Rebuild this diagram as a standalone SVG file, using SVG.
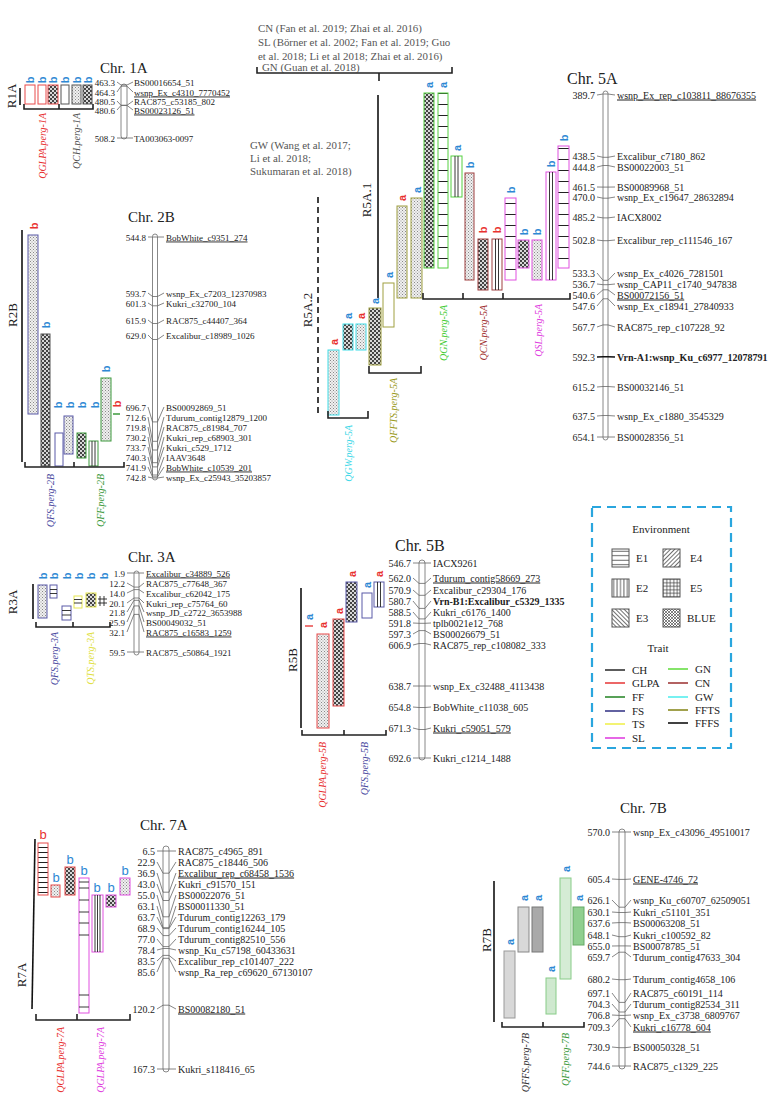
<svg xmlns="http://www.w3.org/2000/svg" width="768" height="1110" viewBox="0 0 768 1110">
<style>
.sf{font-family:"Liberation Serif","Times New Roman",serif;fill:#222}
.n9{font-size:9px}
.n10{font-size:10px}
.num{text-anchor:end}
.ttl{font-size:15px}
.chr{fill:#fff;stroke:#888;stroke-width:1}
.cn{fill:none;stroke:#666;stroke-width:0.8}
.brk{fill:none;stroke:#222;stroke-width:1.6}
.rg{font-size:13px;text-anchor:middle;dominant-baseline:central}
.rl{stroke:#111;stroke-width:1.6;fill:none}
.ql{font-style:italic;font-size:10px;text-anchor:end}
.lt{font-family:"Liberation Sans",Arial,sans-serif;font-size:11px;font-weight:bold;text-anchor:middle;dominant-baseline:central}
.bl{fill:#2e88d4}
.rd{fill:#e8312f}
.u{text-decoration:underline}
.bd{font-weight:bold}
.cit{font-size:10.9px;fill:#555}
.sGLPA{stroke:#e84a4a;stroke-width:1}
.sCH{stroke:#555;stroke-width:1}
.sFS{stroke:#5a5aa8;stroke-width:1}
.sFF{stroke:#3c9a3c;stroke-width:1}
.sTS{stroke:#e6e650;stroke-width:1}
.sSL{stroke:#e050e0;stroke-width:1}
.sGN{stroke:#55d040;stroke-width:1}
.sCN{stroke:#a04040;stroke-width:1}
.sGW{stroke:#40dde8;stroke-width:1}
.sFFTS{stroke:#a0a040;stroke-width:1}
.ln{stroke:#222;stroke-width:0.9}
.sw{stroke:#555;stroke-width:1}
.lg{font-size:11px}
</style>
<defs>
<pattern id="pDot" width="3" height="3" patternUnits="userSpaceOnUse"><rect width="3" height="3" fill="#f0f0f0"/><rect width="1" height="1" fill="#888"/><rect x="1.5" y="1.5" width="1" height="1" fill="#999"/></pattern>
<pattern id="pBlue" width="4" height="4" patternUnits="userSpaceOnUse"><rect width="4" height="4" fill="#d8d8d8"/><rect width="2" height="2" fill="#444"/><rect x="2" y="2" width="2" height="2" fill="#444"/></pattern>
<pattern id="pH" width="10" height="11" patternUnits="userSpaceOnUse"><rect width="10" height="11" fill="#fff"/><line x1="0" y1="5.5" x2="10" y2="5.5" stroke="#222" stroke-width="1"/></pattern>
<pattern id="pH5" width="10" height="5" patternUnits="userSpaceOnUse"><rect width="10" height="5" fill="#fff"/><line x1="0" y1="2.5" x2="10" y2="2.5" stroke="#222" stroke-width="1"/></pattern>
<pattern id="pHg" width="10" height="2" patternUnits="userSpaceOnUse"><rect width="10" height="2" fill="#e4e4e4"/><line x1="0" y1="1" x2="10" y2="1" stroke="#bbb" stroke-width="0.6"/></pattern>
<pattern id="pHgr" width="10" height="2" patternUnits="userSpaceOnUse"><rect width="10" height="2" fill="#dcefdc"/><line x1="0" y1="1" x2="10" y2="1" stroke="#b0d8b0" stroke-width="0.6"/></pattern>
<pattern id="gH" width="4" height="4.5" patternUnits="userSpaceOnUse"><rect width="4" height="4.5" fill="#fff"/><line x1="0" y1="2.2" x2="4" y2="2.2" stroke="#333" stroke-width="0.8"/></pattern>
<pattern id="gV" width="3.4" height="4" patternUnits="userSpaceOnUse"><rect width="3.4" height="4" fill="#fff"/><line x1="1.7" y1="0" x2="1.7" y2="4" stroke="#333" stroke-width="0.8"/></pattern>
<pattern id="gD1" width="3" height="3" patternUnits="userSpaceOnUse" patternTransform="rotate(-45)"><rect width="3" height="3" fill="#fff"/><line x1="1.5" y1="0" x2="1.5" y2="3" stroke="#333" stroke-width="0.7"/></pattern>
<pattern id="gD2" width="3" height="3" patternUnits="userSpaceOnUse" patternTransform="rotate(45)"><rect width="3" height="3" fill="#fff"/><line x1="1.5" y1="0" x2="1.5" y2="3" stroke="#333" stroke-width="0.7"/></pattern>
<pattern id="gG" width="3.5" height="3.5" patternUnits="userSpaceOnUse"><rect width="3.5" height="3.5" fill="#fff"/><path d="M1.75,0V3.5M0,1.75H3.5" stroke="#333" stroke-width="0.7"/></pattern>
<pattern id="gX" width="3" height="3" patternUnits="userSpaceOnUse"><rect width="3" height="3" fill="#fff"/><path d="M0,0L3,3M3,0L0,3" stroke="#333" stroke-width="0.6"/></pattern>
</defs>
<rect width="768" height="1110" fill="#fff"/>

<!-- Chr 1A -->
<g id="chr1A">
<text class="sf ttl" x="100" y="73" font-size="14">Chr. 1A</text>
<rect class="chr" x="121" y="84" width="6" height="55" rx="3"/>
<g class="sf n9 num">
<text x="115" y="85.5">463.3</text><text x="115" y="95.5">464.3</text><text x="115" y="104.5">480.5</text><text x="115" y="113.5">480.6</text><text x="115" y="141.5">508.2</text>
</g>
<g class="sf n9">
<text x="134" y="85.5">BS00016654_51</text><text x="134" y="95.5" class="u">wsnp_Ex_c4310_7770452</text><text x="134" y="104.5">RAC875_c53185_802</text><text x="134" y="113.5" class="u">BS00023126_51</text><text x="134" y="141.5">TA003063-0097</text>
</g>
</g>
<g id="qtl1A">
<text class="sf rg" transform="translate(11,96) rotate(-90)">R1A</text>
<line class="rl" x1="20" y1="88" x2="20" y2="105"/>
<rect x="25" y="85" width="10" height="19" class="sGLPA" fill="#fff"/>
<rect x="38" y="85" width="8" height="19" class="sGLPA" fill="#fff"/>
<rect x="48" y="85" width="10" height="19" class="sGLPA" fill="url(#pBlue)"/>
<rect x="61" y="85" width="8" height="19" class="sCH" fill="#fff"/>
<rect x="72" y="85" width="9" height="19" class="sCH" fill="url(#pDot)"/>
<rect x="83" y="85" width="9" height="19" class="sCH" fill="url(#pBlue)"/>
<g class="lt bl">
<text transform="translate(30,80) rotate(-90)">b</text><text transform="translate(42,80) rotate(-90)">b</text><text transform="translate(53,80) rotate(-90)">b</text><text transform="translate(65,80) rotate(-90)">b</text><text transform="translate(77,80) rotate(-90)">b</text><text transform="translate(88,80) rotate(-90)">b</text>
</g>
<path class="brk" d="M24,104V109H93V104M59,109V104"/>
<text class="sf ql" style="fill:#e83030" transform="translate(45.5,113) rotate(-90)">QGLPA.perg-1A</text>
<text class="sf ql" style="fill:#555" transform="translate(79.5,113) rotate(-90)">QCH.perg-1A</text>
</g>

<!-- Chr 2B -->
<g id="chr2B">
<text class="sf ttl" x="128" y="222" font-size="14">Chr. 2B</text>
<rect class="chr" x="152.5" y="234" width="5" height="246" rx="2.5"/>
<g class="sf n9 num">
<text x="146" y="240.5">544.8</text><text x="146" y="296.5">593.7</text><text x="146" y="306.5">601.3</text><text x="146" y="323.5">615.9</text><text x="146" y="338.5">629.0</text><text x="146" y="410.5">696.7</text><text x="146" y="420.5">712.6</text><text x="146" y="430.5">719.8</text><text x="146" y="440.5">730.2</text><text x="146" y="450.5">733.7</text><text x="146" y="460.5">740.3</text><text x="146" y="470.5">741.9</text><text x="146" y="480.5">742.8</text>
</g>
<g class="sf n9">
<text x="166" y="240.5" class="u">BobWhite_c9351_274</text><text x="166" y="296.5">wsnp_Ex_c7203_12370983</text><text x="166" y="306.5">Kukri_c32700_104</text><text x="166" y="323.5">RAC875_c44407_364</text><text x="166" y="338.5">Excalibur_c18989_1026</text><text x="166" y="410.5">BS00092869_51</text><text x="166" y="420.5">Tdurum_contig12879_1200</text><text x="166" y="430.5">RAC875_c81984_707</text><text x="166" y="440.5">Kukri_rep_c68903_301</text><text x="166" y="450.5">Kukri_c529_1712</text><text x="166" y="460.5">IAAV3648</text><text x="166" y="470.5" class="u">BobWhite_c10539_201</text><text x="166" y="480.5">wsnp_Ex_c25943_35203857</text>
</g>
</g>
<g id="qtl2B">
<text class="sf rg" transform="translate(12,315) rotate(-90)">R2B</text>
<line class="rl" x1="22" y1="230" x2="22" y2="462"/>
<rect x="28" y="235" width="10" height="179" class="sFS" fill="url(#pDot)"/>
<rect x="41" y="334" width="9" height="132" class="sCH" fill="url(#pBlue)"/>
<rect x="55" y="433" width="8" height="33" class="sFS" fill="#fff"/>
<rect x="64" y="416" width="9" height="38" class="sFS" fill="url(#pDot)"/>
<rect x="77" y="433" width="9" height="25" class="sFF" fill="url(#pBlue)"/>
<rect x="89" y="441" width="9" height="25" class="sFF" fill="#fff"/>
<path class="ln" d="M92,441V466M95,441V466"/>
<rect x="101" y="378" width="10" height="63" class="sFF" fill="url(#pDot)"/>
<line x1="113" y1="414" x2="120" y2="414" stroke="#3c9a3c" stroke-width="1.5"/>
<text class="lt rd" transform="translate(34,226) rotate(-90)">b</text>
<text class="lt bl" transform="translate(45.5,325) rotate(-90)">b</text>
<text class="lt bl" transform="translate(58,405) rotate(-90)">b</text>
<text class="lt bl" transform="translate(70,405) rotate(-90)">b</text>
<text class="lt bl" transform="translate(82,405) rotate(-90)">b</text>
<text class="lt bl" transform="translate(95,405) rotate(-90)">b</text>
<text class="lt bl" transform="translate(106,369) rotate(-90)">b</text>
<text class="lt rd" transform="translate(117,404) rotate(-90)">b</text>
<path class="brk" d="M25,462V467H124V462M74,467V462"/>
<text class="sf ql" style="fill:#4a4aa0" transform="translate(53.5,474) rotate(-90)">QFS.perg-2B</text>
<text class="sf ql" style="fill:#3c9a3c" transform="translate(103.5,474) rotate(-90)">QFF.perg-2B</text>
</g>

<!-- Chr 5A -->
<g id="chr5A">
<text class="sf" x="567" y="84" font-size="16">Chr. 5A</text>
<rect class="chr" x="603" y="91" width="5" height="349" rx="2.5"/>
<g class="sf n10 num">
<text x="595" y="98.5">389.7</text><text x="595" y="159.5">438.5</text><text x="595" y="170.5">444.8</text><text x="595" y="190.5">461.5</text><text x="595" y="200.5">470.0</text><text x="595" y="220.5">485.2</text><text x="595" y="243.5">502.8</text><text x="595" y="276.5">533.3</text><text x="595" y="287.5">536.7</text><text x="595" y="298.5">540.6</text><text x="595" y="309.5">547.6</text><text x="595" y="330.5">567.7</text><text x="595" y="360.5">592.3</text><text x="595" y="390.5">615.2</text><text x="595" y="419.5">637.5</text><text x="595" y="440.5">654.1</text>
</g>
<g class="sf n10">
<text x="617" y="98.5" class="u">wsnp_Ex_rep_c103811_88676355</text><text x="617" y="159.5">Excalibur_c7180_862</text><text x="617" y="170.5">BS00022003_51</text><text x="617" y="190.5">BS00089968_51</text><text x="617" y="200.5">wsnp_Ex_c19647_28632894</text><text x="617" y="220.5">IACX8002</text><text x="617" y="243.5">Excalibur_rep_c111546_167</text><text x="617" y="276.5">wsnp_Ex_c4026_7281501</text><text x="617" y="287.5">wsnp_CAP11_c1740_947838</text><text x="617" y="298.5" class="u">BS00072156_51</text><text x="617" y="309.5">wsnp_Ex_c18941_27840933</text><text x="617" y="330.5">RAC875_rep_c107228_92</text><text x="617" y="360.5" class="bd">Vrn-A1:wsnp_Ku_c6977_12078791</text><text x="617" y="390.5">BS00032146_51</text><text x="617" y="419.5">wsnp_Ex_c1880_3545329</text><text x="617" y="440.5">BS00028356_51</text>
</g>
</g>
<g id="qtl5A">
<g class="sf cit">
<text x="258" y="32">CN (Fan et al. 2019; Zhai et al. 2016)</text>
<text x="258" y="46">SL (Börner et al. 2002; Fan et al. 2019; Guo</text>
<text x="258" y="60">et al. 2018; Li et al 2018; Zhai et al. 2016)</text>
<text x="262" y="71">GN (Guan et al. 2018)</text>
<text x="250" y="149">GW (Wang et al. 2017;</text>
<text x="250" y="162">Li et al. 2018;</text>
<text x="250" y="175">Sukumaran et al. 2018)</text>
</g>
<path class="brk" d="M257,67V73H452V67M379,73V81"/>
<line class="rl" x1="378" y1="95" x2="378" y2="298"/>
<text class="sf rg" transform="translate(366,200) rotate(-90)">R5A.1</text>
<line class="rl" x1="318" y1="197" x2="318" y2="413" stroke-dasharray="6,4"/>
<text class="sf rg" transform="translate(307,310) rotate(-90)">R5A.2</text>
<rect x="328" y="350" width="11" height="65" class="sGW" fill="url(#pDot)"/>
<rect x="343" y="324" width="10" height="26" class="sGW" fill="url(#pBlue)"/>
<rect x="356" y="324" width="10" height="26" class="sGW" fill="url(#pDot)"/>
<rect x="369" y="308" width="12" height="57" class="sFFTS" fill="url(#pBlue)"/>
<rect x="383" y="283" width="11" height="44" class="sFFTS" fill="#fff"/>
<rect x="397" y="206" width="10" height="92" class="sFFTS" fill="url(#pDot)"/>
<rect x="411" y="198" width="11" height="100" class="sFFTS" fill="url(#pDot)"/>
<rect x="424" y="93" width="10" height="175" class="sGN" fill="url(#pBlue)"/>
<rect x="438" y="93" width="10" height="175" class="sGN" fill="url(#pH)"/>
<rect x="451" y="156" width="11" height="41" class="sGN" fill="#fff"/>
<path class="ln" d="M455,156V197M458,156V197"/>
<rect x="465" y="173" width="9" height="107" class="sCN" fill="url(#pDot)"/>
<rect x="478" y="239" width="10" height="51" class="sCN" fill="url(#pBlue)"/>
<rect x="492" y="239" width="10" height="51" class="sCN" fill="#fff"/>
<path class="ln" d="M495.5,239V290M498.5,239V290"/>
<rect x="505" y="198" width="11" height="82" class="sSL" fill="url(#pH)"/>
<rect x="518" y="240" width="11" height="28" class="sSL" fill="url(#pBlue)"/>
<rect x="532" y="240" width="10" height="40" class="sSL" fill="url(#pDot)"/>
<rect x="546" y="172" width="10" height="108" class="sSL" fill="#fff"/>
<path class="ln" d="M549.5,172V280M552.5,172V280"/>
<rect x="558" y="146" width="11" height="122" class="sSL" fill="url(#pH)"/>
<text class="lt rd" transform="translate(333.5,342) rotate(-90)">a</text>
<text class="lt bl" transform="translate(348,316) rotate(-90)">a</text>
<text class="lt rd" transform="translate(361,316) rotate(-90)">a</text>
<text class="lt bl" transform="translate(375,301) rotate(-90)">a</text>
<text class="lt bl" transform="translate(388.5,275) rotate(-90)">a</text>
<text class="lt rd" transform="translate(402,198) rotate(-90)">a</text>
<text class="lt bl" transform="translate(416.5,190) rotate(-90)">a</text>
<text class="lt bl" transform="translate(429,85) rotate(-90)">a</text>
<text class="lt bl" transform="translate(443,85) rotate(-90)">a</text>
<text class="lt bl" transform="translate(456.5,148) rotate(-90)">a</text>
<text class="lt bl" transform="translate(469.5,165) rotate(-90)">b</text>
<text class="lt rd" transform="translate(483,230) rotate(-90)">b</text>
<text class="lt rd" transform="translate(497,230) rotate(-90)">b</text>
<text class="lt bl" transform="translate(510.5,190) rotate(-90)">b</text>
<text class="lt bl" transform="translate(523.5,232) rotate(-90)">b</text>
<text class="lt bl" transform="translate(537,232) rotate(-90)">b</text>
<text class="lt bl" transform="translate(551,164) rotate(-90)">b</text>
<text class="lt bl" transform="translate(563.5,138) rotate(-90)">b</text>
<path class="brk" d="M328,411V418H368V411"/>
<path class="brk" d="M369,366V373H421V366"/>
<path class="brk" d="M423,293V299H570V293M463,299V293M503,299V293"/>
<text class="sf ql" style="fill:#40d8e8" transform="translate(351.5,425) rotate(-90)">QGW.perg-5A</text>
<text class="sf ql" style="fill:#9a9a20" transform="translate(397,378) rotate(-90)">QFFTS.perg-5A</text>
<text class="sf ql" style="fill:#44cc33" transform="translate(446.5,305) rotate(-90)">QGN.perg-5A</text>
<text class="sf ql" style="fill:#a03030" transform="translate(486.5,305) rotate(-90)">QCN.perg-5A</text>
<text class="sf ql" style="fill:#e040e0" transform="translate(541.5,304) rotate(-90)">QSL.perg-5A</text>
</g>

<!-- Chr 3A -->
<g id="chr3A">
<text class="sf ttl" x="128" y="562" font-size="14">Chr. 3A</text>
<rect class="chr" x="134" y="571" width="5" height="84" rx="2.5"/>
<g class="sf n9 num">
<text x="125" y="576.5">1.9</text><text x="125" y="586.5">12.2</text><text x="125" y="596.5">14.0</text><text x="125" y="606.5">20.1</text><text x="125" y="615.5">21.8</text><text x="125" y="625.5">25.9</text><text x="125" y="635.5">32.1</text><text x="125" y="655.5">59.5</text>
</g>
<g class="sf n9">
<text x="146" y="576.5" class="u">Excalibur_c34889_526</text><text x="146" y="586.5">RAC875_c77648_367</text><text x="146" y="596.5">Excalibur_c62042_175</text><text x="146" y="606.5">Kukri_rep_c75764_60</text><text x="146" y="615.5">wsnp_JD_c2722_3653988</text><text x="146" y="625.5">BS00049032_51</text><text x="146" y="635.5" class="u">RAC875_c16583_1259</text><text x="146" y="655.5">RAC875_c50864_1921</text>
</g>
</g>
<g id="qtl3A">
<text class="sf rg" transform="translate(12,602) rotate(-90)">R3A</text>
<line class="rl" x1="33" y1="584" x2="33" y2="619"/>
<rect x="38" y="585" width="9" height="33" class="sFS" fill="url(#pDot)"/>
<rect x="50" y="585" width="7" height="13" class="sFS" fill="#fff"/>
<path class="ln" d="M50,589.5H57M50,593.5H57"/>
<rect x="62" y="606" width="9" height="14" class="sFS" fill="#fff"/>
<path class="ln" d="M62,610.5H71M62,615H71"/>
<rect x="74" y="596" width="8" height="12" class="sTS" fill="#fff"/>
<path class="ln" d="M74,599.5H82M74,603H82"/>
<rect x="86" y="593" width="10" height="14" class="sTS" fill="url(#pBlue)"/>
<path class="ln" d="M100,596V606M104,596V606M98,599H107M98,603H107"/>
<g class="lt bl">
<text transform="translate(43,576) rotate(-90)">b</text><text transform="translate(54,576) rotate(-90)">b</text><text transform="translate(67,576) rotate(-90)">b</text><text transform="translate(79,576) rotate(-90)">b</text><text transform="translate(91,576) rotate(-90)">b</text><text transform="translate(104,576) rotate(-90)">b</text>
</g>
<path class="brk" d="M36,622V627H110V622M73,627V622"/>
<text class="sf ql" style="fill:#4a4aa0" transform="translate(58,632) rotate(-90)">QFS.perg-3A</text>
<text class="sf ql" style="fill:#e0e040" transform="translate(94,632) rotate(-90)">QTS.perg-3A</text>
</g>

<!-- Chr 5B -->
<g id="chr5B">
<text class="sf" x="395" y="551" font-size="16">Chr. 5B</text>
<rect class="chr" x="419" y="560" width="6" height="200" rx="3"/>
<g class="sf n10 num">
<text x="411" y="566.5">546.7</text><text x="411" y="581.5">562.0</text><text x="411" y="593.5">570.9</text><text x="411" y="604.5">580.7</text><text x="411" y="615.5">588.5</text><text x="411" y="626.5">591.8</text><text x="411" y="637.5">597.3</text><text x="411" y="648.5">606.9</text><text x="411" y="689.5">638.7</text><text x="411" y="710.5">654.8</text><text x="411" y="731.5">671.3</text><text x="411" y="761.5">692.6</text>
</g>
<g class="sf n10">
<text x="433" y="566.5">IACX9261</text><text x="433" y="581.5" class="u">Tdurum_contig58669_273</text><text x="433" y="593.5">Excalibur_c29304_176</text><text x="433" y="604.5" class="bd">Vrn-B1:Excalibur_c5329_1335</text><text x="433" y="615.5">Kukri_c6176_1400</text><text x="433" y="626.5">tplb0021e12_768</text><text x="433" y="637.5">BS00026679_51</text><text x="433" y="648.5">RAC875_rep_c108082_333</text><text x="433" y="689.5">wsnp_Ex_c32488_4113438</text><text x="433" y="710.5">BobWhite_c11038_605</text><text x="433" y="731.5" class="u">Kukri_c59051_579</text><text x="433" y="761.5">Kukri_c1214_1488</text>
</g>
</g>
<g id="qtl5B">
<text class="sf rg" transform="translate(292,660) rotate(-90)">R5B</text>
<line class="rl" x1="301" y1="588" x2="301" y2="728"/>
<line x1="305" y1="626" x2="313" y2="626" stroke="#e84a4a" stroke-width="1.5"/>
<rect x="317" y="634" width="12" height="94" class="sGLPA" fill="url(#pDot)"/>
<rect x="333" y="619" width="11" height="87" class="sGLPA" fill="url(#pBlue)"/>
<rect x="346" y="582" width="11" height="40" class="sFS" fill="url(#pBlue)"/>
<rect x="362" y="593" width="10" height="25" class="sFS" fill="#fff"/>
<rect x="374" y="582" width="10" height="25" class="sFS" fill="#fff"/>
<path class="ln" d="M377.5,582V607M380.5,582V607"/>
<text class="lt bl" transform="translate(309,617) rotate(-90)">a</text>
<text class="lt rd" transform="translate(323,625) rotate(-90)">a</text>
<text class="lt rd" transform="translate(338.5,611) rotate(-90)">a</text>
<text class="lt rd" transform="translate(351.5,574) rotate(-90)">a</text>
<text class="lt bl" transform="translate(367,585) rotate(-90)">a</text>
<text class="lt rd" transform="translate(379,574) rotate(-90)">a</text>
<path class="brk" d="M302,730V735H386V730M344,735V730"/>
<text class="sf ql" style="fill:#e83030" transform="translate(325.5,742) rotate(-90)">QGLPA.perg-5B</text>
<text class="sf ql" style="fill:#4a4aa0" transform="translate(367.5,742) rotate(-90)">QFS.perg-5B</text>
</g>

<!-- Legend -->
<g id="legend">
<rect x="592" y="507" width="139" height="241" fill="none" stroke="#2aa6de" stroke-width="2.2" stroke-dasharray="9,6"/>
<text class="sf lg" x="661" y="533" text-anchor="middle">Environment</text>
<rect class="sw" x="612" y="549" width="17" height="18" fill="url(#gH)"/>
<rect class="sw" x="663" y="549" width="17" height="18" fill="url(#gD2)"/>
<rect class="sw" x="612" y="579" width="17" height="18" fill="url(#gV)"/>
<rect class="sw" x="663" y="579" width="17" height="18" fill="url(#gG)"/>
<rect class="sw" x="612" y="609" width="17" height="18" fill="url(#gD1)"/>
<rect class="sw" x="663" y="609" width="17" height="18" fill="url(#gX)"/>
<g class="sf lg">
<text x="636" y="562">E1</text><text x="690" y="562">E4</text>
<text x="636" y="592">E2</text><text x="690" y="592">E5</text>
<text x="636" y="622">E3</text><text x="687" y="622">BLUE</text>
</g>
<text class="sf lg" x="658" y="652" text-anchor="middle">Trait</text>
<g stroke-width="1.6">
<line x1="605" y1="670" x2="625" y2="670" stroke="#333"/>
<line x1="605" y1="683" x2="625" y2="683" stroke="#e84040"/>
<line x1="605" y1="697" x2="625" y2="697" stroke="#2e8a2e"/>
<line x1="605" y1="711" x2="625" y2="711" stroke="#3a3a8a"/>
<line x1="605" y1="724" x2="625" y2="724" stroke="#f0f050"/>
<line x1="605" y1="738" x2="625" y2="738" stroke="#e040e0"/>
<line x1="668" y1="669" x2="688" y2="669" stroke="#66dd44"/>
<line x1="668" y1="683" x2="688" y2="683" stroke="#a03a3a"/>
<line x1="668" y1="697" x2="688" y2="697" stroke="#55eeee"/>
<line x1="668" y1="710" x2="688" y2="710" stroke="#8a8a20"/>
<line x1="668" y1="723" x2="688" y2="723" stroke="#111"/>
</g>
<g class="sf lg">
<text x="632" y="674">CH</text><text x="632" y="687">GLPA</text><text x="632" y="701">FF</text><text x="632" y="715">FS</text><text x="632" y="728">TS</text><text x="632" y="742">SL</text>
<text x="695" y="673">GN</text><text x="695" y="687">CN</text><text x="695" y="701">GW</text><text x="695" y="714">FFTS</text><text x="695" y="727">FFFS</text>
</g>
</g>

<!-- Chr 7A -->
<g id="chr7A">
<text class="sf ttl" x="140" y="830">Chr. 7A</text>
<rect class="chr" x="163" y="846" width="6" height="226" rx="3"/>
<g class="sf n10 num">
<text x="155" y="854.5">6.5</text><text x="155" y="865.5">22.9</text><text x="155" y="876.5">36.9</text><text x="155" y="887.5">43.0</text><text x="155" y="898.5">55.0</text><text x="155" y="909.5">63.1</text><text x="155" y="920.5">63.7</text><text x="155" y="931.5">68.9</text><text x="155" y="942.5">77.0</text><text x="155" y="953.5">78.4</text><text x="155" y="964.5">83.5</text><text x="155" y="975.5">85.6</text><text x="155" y="1012.5">120.2</text><text x="155" y="1072.5">167.3</text>
</g>
<g class="sf n10">
<text x="178" y="854.5">RAC875_c4965_891</text><text x="178" y="865.5">RAC875_c18446_506</text><text x="178" y="876.5" class="u">Excalibur_rep_c68458_1536</text><text x="178" y="887.5">Kukri_c91570_151</text><text x="178" y="898.5">BS00022076_51</text><text x="178" y="909.5">BS00011330_51</text><text x="178" y="920.5">Tdurum_contig12263_179</text><text x="178" y="931.5">Tdurum_contig16244_105</text><text x="178" y="942.5">Tdurum_contig82510_556</text><text x="178" y="953.5">wsnp_Ku_c57198_60433631</text><text x="178" y="964.5">Excalibur_rep_c101407_222</text><text x="178" y="975.5">wsnp_Ra_rep_c69620_67130107</text><text x="178" y="1012.5" class="u">BS00082180_51</text><text x="178" y="1072.5">Kukri_s118416_65</text>
</g>
</g>
<g id="qtl7A">
<text class="sf rg" transform="translate(21,975) rotate(-90)" font-size="14">R7A</text>
<line class="rl" x1="35" y1="839" x2="32" y2="1009"/>
<rect x="38" y="843" width="10" height="52" class="sGLPA" fill="url(#pH5)"/>
<rect x="51" y="885" width="9" height="12" class="sGLPA" fill="url(#pDot)"/>
<rect x="65" y="867" width="10" height="28" class="sGLPA" fill="url(#pBlue)"/>
<rect x="79" y="878" width="10" height="135" class="sSL" fill="#fff"/>
<path class="ln" d="M79,882H89M79,888H89M79,900H89M79,912H89M79,923H89M79,935H89M79,995H89M79,1007H89"/>
<rect x="92" y="895" width="11" height="57" class="sSL" fill="#fff"/>
<path class="ln" d="M95,895V952M97.5,895V952M100,895V952"/>
<rect x="106" y="895" width="10" height="12" class="sSL" fill="url(#pBlue)"/>
<rect x="120" y="878" width="10" height="17" class="sSL" fill="url(#pDot)"/>
<g font-family="Liberation Sans, Arial, sans-serif" font-size="13" text-anchor="middle">
<text x="43" y="839" fill="#e8312f">b</text>
<text x="56" y="882" fill="#2e88d4">b</text>
<text x="70" y="864" fill="#2e88d4">b</text>
<text x="84" y="875" fill="#2e88d4">b</text>
<text x="97" y="892" fill="#2e88d4">b</text>
<text x="111" y="892" fill="#2e88d4">b</text>
<text x="125" y="875" fill="#2e88d4">b</text>
</g>
<path class="brk" d="M36,1014V1020H130V1014M77,1020V1014"/>
<text class="sf ql" style="fill:#e83030" transform="translate(63.5,1027) rotate(-90)">QGLPA.perg-7A</text>
<text class="sf ql" style="fill:#e040e0" transform="translate(103.5,1027) rotate(-90)">QGLPA.perg-7A</text>
</g>

<!-- Chr 7B -->
<g id="chr7B">
<text class="sf ttl" x="620" y="813">Chr. 7B</text>
<rect class="chr" x="619" y="829" width="6" height="240" rx="3"/>
<g class="sf n10 num">
<text x="610" y="835.5">570.0</text><text x="610" y="882.5">605.4</text><text x="610" y="903.5">626.1</text><text x="610" y="915.5">630.1</text><text x="610" y="926.5">637.6</text><text x="610" y="938.5">648.1</text><text x="610" y="949.5">655.0</text><text x="610" y="960.5">659.7</text><text x="610" y="982.5">680.2</text><text x="610" y="996.5">697.1</text><text x="610" y="1007.5">704.3</text><text x="610" y="1018.5">706.8</text><text x="610" y="1030.5">709.3</text><text x="610" y="1050.5">730.9</text><text x="610" y="1069.5">744.6</text>
</g>
<g class="sf n10">
<text x="633" y="835.5">wsnp_Ex_c43096_49510017</text><text x="633" y="882.5" class="u">GENE-4746_72</text><text x="633" y="903.5">wsnp_Ku_c60707_62509051</text><text x="633" y="915.5">Kukri_c51101_351</text><text x="633" y="926.5">BS00063208_51</text><text x="633" y="938.5">Kukri_c100592_82</text><text x="633" y="949.5">BS00078785_51</text><text x="633" y="960.5">Tdurum_contig47633_304</text><text x="633" y="982.5">Tdurum_contig4658_106</text><text x="633" y="996.5">RAC875_c60191_114</text><text x="633" y="1007.5">Tdurum_contig82534_311</text><text x="633" y="1018.5">wsnp_Ex_c3738_6809767</text><text x="633" y="1030.5" class="u">Kukri_c16778_604</text><text x="633" y="1050.5">BS00050328_51</text><text x="633" y="1069.5">RAC875_c1329_225</text>
</g>
</g>
<g id="qtl7B">
<text class="sf rg" transform="translate(486,940) rotate(-90)" font-size="14">R7B</text>
<line class="rl" x1="494" y1="881" x2="494" y2="1022"/>
<rect x="504" y="951" width="11" height="67" fill="url(#pHg)" stroke="#999" stroke-width="1"/>
<rect x="518" y="907" width="11" height="45" fill="#d8d8d8" stroke="#888" stroke-width="1"/>
<rect x="532" y="907" width="11" height="45" fill="#a9a9a9" stroke="#777" stroke-width="1"/>
<rect x="546" y="978" width="10" height="36" fill="url(#pHgr)" stroke="#8c8" stroke-width="1"/>
<rect x="560" y="878" width="11" height="101" fill="#d5ecd5" stroke="#8c8" stroke-width="1"/>
<rect x="573" y="907" width="11" height="38" fill="#8fcf8f" stroke="#6a6" stroke-width="1"/>
<g class="lt bl">
<text transform="translate(509.5,942) rotate(-90)">a</text>
<text transform="translate(523.5,898) rotate(-90)">a</text>
<text transform="translate(537.5,898) rotate(-90)">a</text>
<text transform="translate(551,969) rotate(-90)">a</text>
<text transform="translate(565.5,869) rotate(-90)">a</text>
<text transform="translate(578.5,898) rotate(-90)">a</text>
</g>
<path class="brk" d="M502,1022V1027H584V1022M543,1027V1022"/>
<text class="sf ql" style="fill:#333" transform="translate(528.5,1033) rotate(-90)">QFFS.perg-7B</text>
<text class="sf ql" style="fill:#3c9a3c" transform="translate(568.5,1033) rotate(-90)">QFF.perg-7B</text>
</g>

<!-- connectors -->
<g id="connectors" class="cn">
<path d="M117,82L121,85H127L133,82M117,92L121,86.2H127L133,92M117,101L121,105.3H127L133,101M117,110L121,105.4H127L133,110M117,138L121,138H127L133,138"/>
<path d="M148,237L152.5,237H157.5L164,237M148,293L152.5,296.5H157.5L164,293M148,303L152.5,305.8H157.5L164,303M148,320L152.5,323.5H157.5L164,320M148,335L152.5,339.5H157.5L164,335M148,407L152.5,421.9H157.5L164,407M148,417L152.5,441.3H157.5L164,417M148,427L152.5,450H157.5L164,427M148,437L152.5,462.7H157.5L164,437M148,447L152.5,466.9H157.5L164,447M148,457L152.5,475H157.5L164,457M148,467L152.5,476.9H157.5L164,467M148,477L152.5,478H157.5L164,477"/>
<path d="M597,95L603,94H608L615,95M597,156L603,157.3H608L615,156M597,167L603,165.5H608L615,167M597,187L603,187.1H608L615,187M597,197L603,198.2H608L615,197M597,217L603,217.9H608L615,217M597,240L603,240.7H608L615,240M597,273L603,280.3H608L615,273M597,284L603,284.7H608L615,284M597,295L603,289.8H608L615,295M597,306L603,298.8H608L615,306M597,327L603,324.9H608L615,327M597,387L603,386.5H608L615,387M597,416L603,415.5H608L615,416M597,437L603,437H608L615,437"/>
<path d="M597,357L603,356.8H608L615,357" stroke="#111" stroke-width="1.4"/>
<path d="M127,573L134,573H139L144,573M127,583L134,587.1H139L144,583M127,593L134,589.6H139L144,593M127,603L134,598H139L144,603M127,612L134,600.3H139L144,612M127,622L134,605.9H139L144,622M127,632L134,614.4H139L144,632M127,652L134,652H139L144,652"/>
<path d="M413,563L419,563H425L431,563M413,578L419,583.4H425L431,578M413,590L419,595.3H425L431,590M413,601L419,608.4H425L431,601M413,612L419,618.9H425L431,612M413,623L419,623.3H425L431,623M413,634L419,630.6H425L431,634M413,645L419,643.5H425L431,645M413,686L419,686H425L431,686M413,707L419,707.5H425L431,707M413,728L419,729.5H425L431,728M413,758L419,758H425L431,758"/>
<path d="M157,851L163,851H169L176,851M157,862L163,873.2H169L176,862M157,873L163,892.2H169L176,873M157,884L163,900.5H169L176,884M157,895L163,916.8H169L176,895M157,906L163,927.7H169L176,906M157,917L163,928.6H169L176,917M157,928L163,935.6H169L176,928M157,939L163,946.6H169L176,939M157,950L163,948.5H169L176,950M157,961L163,955.4H169L176,961M157,972L163,958.3H169L176,972M157,1009L163,1005.2H169L176,1009M157,1069L163,1069H169L176,1069"/>
<path d="M612,832L619,832H625L631,832M612,879L619,879.4H625L631,879M612,900L619,907.2H625L631,900M612,912L619,912.5H625L631,912M612,923L619,922.6H625L631,923M612,935L619,936.7H625L631,935M612,946L619,945.9H625L631,946M612,957L619,952.2H625L631,957M612,979L619,979.7H625L631,979M612,993L619,1002.4H625L631,993M612,1004L619,1012H625L631,1004M612,1015L619,1015.4H625L631,1015M612,1027L619,1018.7H625L631,1027M612,1047L619,1047.7H625L631,1047M612,1066L619,1066H625L631,1066"/>
</g>
</svg>
